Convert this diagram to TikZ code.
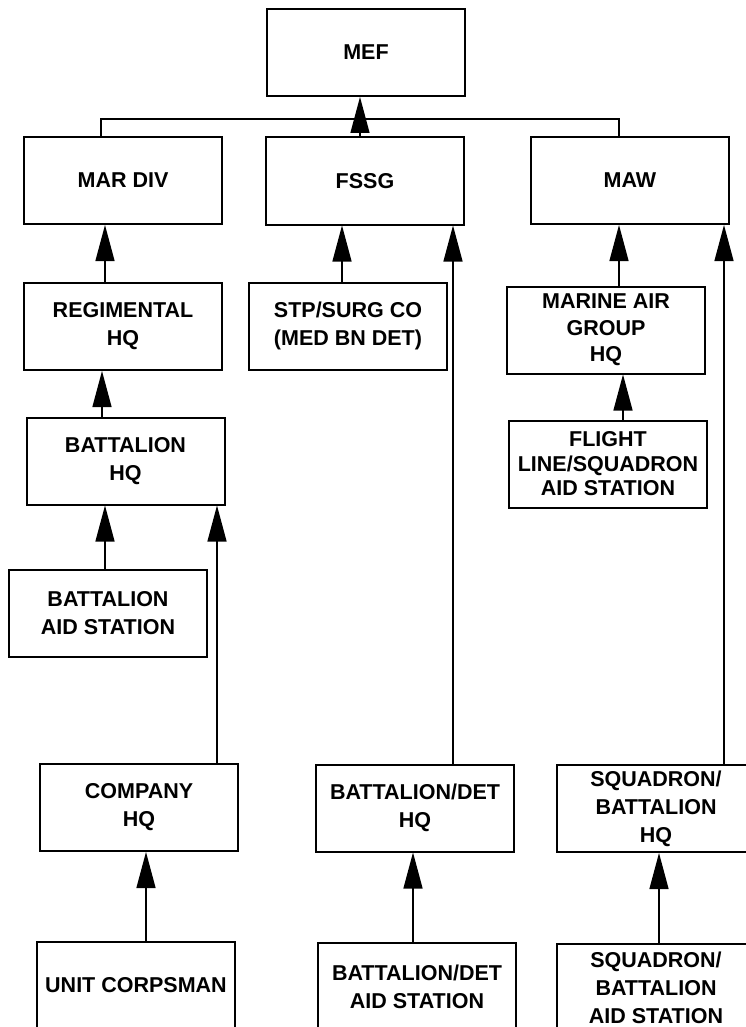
\documentclass[tikz,border=0pt]{standalone}
\usepackage{fontspec}
\setmainfont{Liberation Sans}
\usetikzlibrary{arrows.meta}
\begin{document}
\begin{tikzpicture}[x=1pt,y=-1pt,
  unit/.style={draw,line width=2pt,minimum width=198pt,minimum height=87pt,
    inner sep=0pt,align=center,font=\fontsize{21.5}{28}\selectfont\bfseries},
  link/.style={line width=1.3pt},
  up/.style={link,-{Triangle[length=36pt,width=19pt]}}]
  \useasboundingbox (0,0) rectangle (746,1027);
  \clip (0,0) rectangle (746,1027);
  \node[unit] (mef) at (366,52.5) {MEF};
  \node[unit] (mardiv) at (123,180.5) {MAR DIV};
  \node[unit] (fssg) at (365,181) {FSSG};
  \node[unit] (maw) at (630,180.5) {MAW};
  \node[unit] (regt) at (123,326.5) {REGIMENTAL\\HQ};
  \node[unit] (stp) at (348,326) {STP/SURG CO\\(MED BN DET)};
  \node[unit,font=\fontsize{21.5}{26.5}\selectfont\bfseries] (mag) at (606,330)
    {MARINE AIR\\GROUP\\HQ};
  \node[unit] (bnhq) at (125.5,461) {BATTALION\\HQ};
  \node[unit,font=\fontsize{21.5}{24.5}\selectfont\bfseries] (flight) at (608,464)
    {FLIGHT\\LINE/SQUADRON\\AID STATION};
  \node[unit] (bnaid) at (108,613) {BATTALION\\AID STATION};
  \node[unit] (cohq) at (139,807.5) {COMPANY\\HQ};
  \node[unit] (dethq) at (415,808) {BATTALION/DET\\HQ};
  \node[unit] (sqhq) at (656,808.5) {SQUADRON/\\BATTALION\\HQ};
  \node[unit] (corps) at (136,985.5) {UNIT CORPSMAN};
  \node[unit] (detaid) at (417,986.5) {BATTALION/DET\\AID STATION};
  \node[unit] (sqaid) at (656,987.5) {SQUADRON/\\BATTALION\\AID STATION};
  \coordinate (bus) at (0,119);
  \draw[link] ([xshift=-22pt]mardiv.north) |- ([xshift=-11pt]maw.north |- bus)
    -- ([xshift=-11pt]maw.north);
  \draw[up] ([xshift=-5pt]fssg.north) -- ([xshift=-5pt]fssg.north |- mef.south);
  \draw[up] ([xshift=-18pt]regt.north) -- ([xshift=-18pt]regt.north |- mardiv.south);
  \draw[up] ([xshift=-23.5pt]bnhq.north) -- ([xshift=-23.5pt]bnhq.north |- regt.south);
  \draw[up] ([xshift=-3pt]bnaid.north) -- ([xshift=-3pt]bnaid.north |- bnhq.south);
  \draw[up] ([xshift=78pt]cohq.north) -- ([xshift=78pt]cohq.north |- bnhq.south);
  \draw[up] ([xshift=10pt]corps.north) -- ([xshift=10pt]corps.north |- cohq.south);
  \draw[up] ([xshift=-6pt]stp.north) -- ([xshift=-6pt]stp.north |- fssg.south);
  \draw[up] ([xshift=38pt]dethq.north) -- ([xshift=38pt]dethq.north |- fssg.south);
  \draw[up] ([xshift=-4pt]detaid.north) -- ([xshift=-4pt]detaid.north |- dethq.south);
  \draw[up] ([xshift=13pt]mag.north) -- ([xshift=13pt]mag.north |- maw.south);
  \draw[up] ([xshift=15pt]flight.north) -- ([xshift=15pt]flight.north |- mag.south);
  \draw[up] ([xshift=68pt]sqhq.north) -- ([xshift=68pt]sqhq.north |- maw.south);
  \draw[up] ([xshift=3pt]sqaid.north) -- ([xshift=3pt]sqaid.north |- sqhq.south);
\end{tikzpicture}
\end{document}
